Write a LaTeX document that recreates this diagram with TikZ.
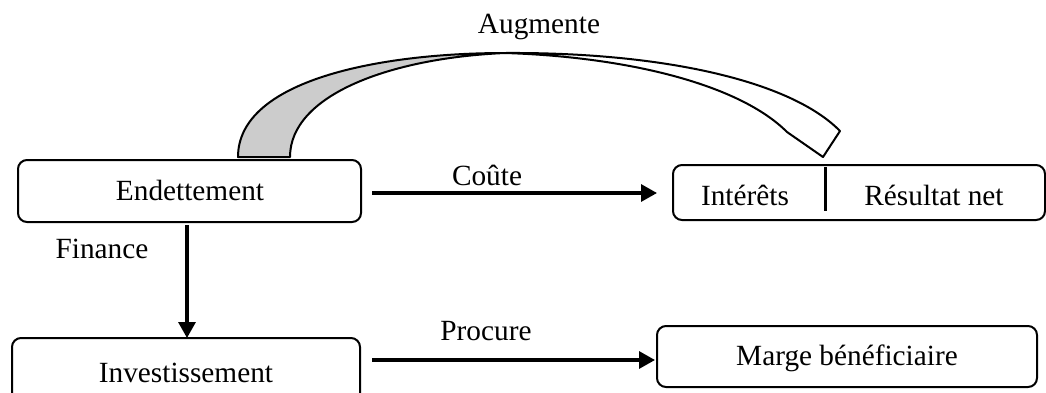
\documentclass[tikz,border=0pt]{standalone}
\usepackage{fontspec}
\setmainfont{Liberation Serif}
\usetikzlibrary{arrows.meta}
\begin{document}
\begin{tikzpicture}[x=1pt,y=-1pt,
  box/.style={draw,line width=2pt,rounded corners=9pt},
  lbl/.style={anchor=base,inner sep=0pt,font=\fontsize{29.3}{34}\selectfont},
  conn/.style={line width=3.2pt,-{Triangle[length=16pt,width=17pt]}}]
\useasboundingbox (0,0) rectangle (1046,392);
\clip (0,0) rectangle (1046,392);
% boxes
\draw[box] (18,160) rectangle (361,222);
\coordinate (endR) at (361,193);
\coordinate (endB) at (187,222);
\node[lbl] (endt) at (190,200) {Endettement};
\draw[box] (12,338) rectangle (360,402);
\coordinate (invT) at (187,338);
\coordinate (invR) at (360,360);
\node[lbl] (inv) at (186,382) {Investissement};
\draw[box] (657,326) rectangle (1037,387);
\coordinate (margeL) at (657,360);
\node[lbl] (marge) at (847,365) {Marge bénéficiaire};
\draw[box] (673,165) rectangle (1045,220);
\coordinate (intL) at (673,193);
\draw[line width=3pt] (825,167) -- (825,211);
\node[lbl] (int) at (745,205) {Intérêts};
\node[lbl] (res) at (934,205) {Résultat net};
% connectors
\coordinate (c1) at (372,193);
\coordinate (c2) at (372,360);
\coordinate (c3) at (187,225);
\draw[conn] (c1) -- ([xshift=-16pt]intL);
\draw[conn] (c2) -- ([xshift=-2pt]margeL);
\draw[conn] (c3) -- (invT);
\node[lbl] (coute) at (487,185) {Coûte};
\node[lbl] (fin) at (102,258) {Finance};
\node[lbl] (proc) at (486,340) {Procure};
\node[lbl] (aug) at (539,33) {Augmente};
% curved block arrow
\coordinate (bL) at (238,157);
\coordinate (bR) at (290,157);
\coordinate (top) at (505,53);
\coordinate (oEnd) at (840,131);
\coordinate (tip) at (823,157);
\coordinate (iEnd) at (787,132);
\draw[line width=2pt,fill=white,line join=round]
  (top) .. controls (660,52) and (790,80) .. (oEnd) -- (tip) -- (iEnd)
  .. controls (740,85) and (630,57) .. (top);
\draw[line width=2pt,fill=black!20,line join=round]
  (bL) .. controls (238,80) and (380,53) .. (top)
  .. controls (390,58) and (290,95) .. (bR) -- cycle;
\end{tikzpicture}
\end{document}
